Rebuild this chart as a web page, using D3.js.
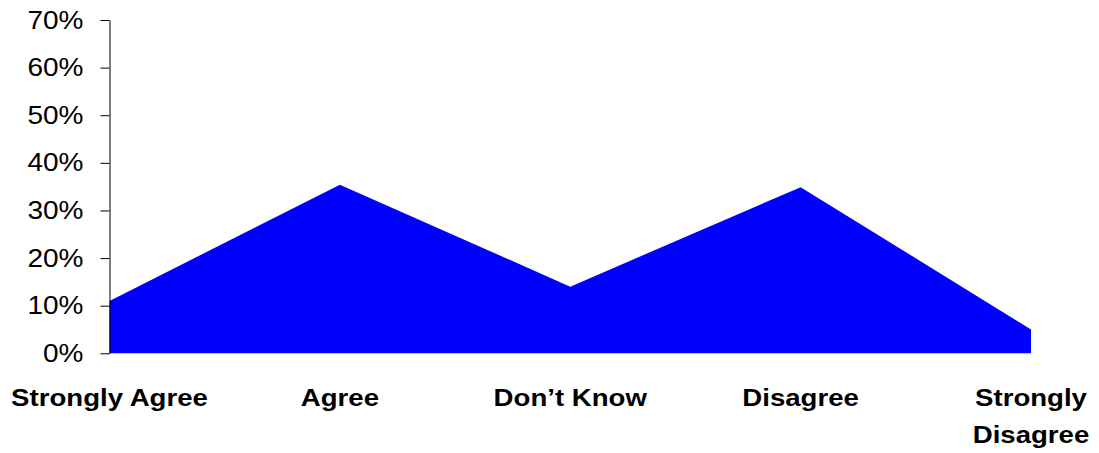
<!DOCTYPE html>
<html>
<head>
<meta charset="utf-8">
<script src="https://cdn.jsdelivr.net/npm/d3@7"></script>
<style>
  html, body { margin: 0; padding: 0; background: #fff; }
  svg { display: block; }
  text { font-family: Arial, "Liberation Sans", sans-serif; fill: #000; }
</style>
</head>
<body>
<svg id="chart" width="1099" height="453"></svg>
<script>
const categories = ["Strongly Agree", "Agree", "Don’t Know", "Disagree", "Strongly Disagree"];
const xTickLabels = ["Strongly Agree", "Agree", "Don’t Know", "Disagree", "Strongly\nDisagree"];
const values = [0.11, 0.354, 0.14, 0.349, 0.05];
const yTicks = [0, 0.1, 0.2, 0.3, 0.4, 0.5, 0.6, 0.7];

const svg = d3.select("#chart");
const x = d3.scalePoint().domain(categories).range([109.5, 1031]);
const y = d3.scaleLinear().domain([0, 0.7]).range([353.3, 20]);

const data = categories.map((c, i) => ({ c, v: values[i] }));

const area = d3.area()
  .x(d => x(d.c))
  .y0(y(0))
  .y1(d => y(d.v));

svg.append("path")
  .datum(data)
  .attr("d", area)
  .attr("fill", "#0000ff");

const yAxis = svg.append("g")
  .attr("transform", "translate(109.5,0)")
  .call(d3.axisLeft(y).tickValues(yTicks).tickFormat(d3.format(".0%")).tickSize(9).tickSizeOuter(0).tickPadding(17));
yAxis.select(".domain").attr("stroke", "#000");
yAxis.selectAll(".tick line").attr("stroke", "#000");
yAxis.selectAll(".tick text")
  .attr("font-size", 25)
  .attr("font-family", "Arial, 'Liberation Sans', sans-serif")
  .attr("fill", "#000")
  .each(function () {
    const t = d3.select(this);
    const xx = +t.attr("x");
    t.attr("transform", `translate(${xx},0) scale(1.12,1) translate(${-xx},0)`);
  });

const labels = svg.append("g");
xTickLabels.forEach((lab, i) => {
  const cx = x(categories[i]);
  const t = labels.append("text")
    .attr("text-anchor", "middle")
    .attr("font-weight", "bold")
    .attr("font-size", 24)
    .attr("transform", `translate(${cx},406) scale(1.15,1)`);
  lab.split("\n").forEach((line, j) => {
    t.append("tspan").attr("x", 0).attr("y", j * 37).text(line);
  });
});
</script>
</body>
</html>
